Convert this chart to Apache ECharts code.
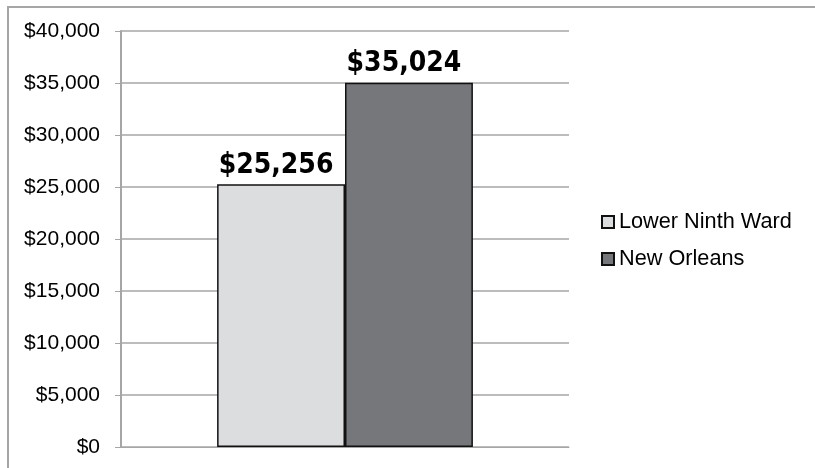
<!DOCTYPE html>
<html><head><meta charset="utf-8">
<script src="https://cdn.jsdelivr.net/npm/echarts@6/dist/echarts.min.js"></script>
<style>html,body{margin:0;padding:0;background:#fff}#c{width:815px;height:468px}</style>
</head><body><div id="c"></div>
<script>
const categories = ['Median Household Income'];
const seriesNames = ['Lower Ninth Ward', 'New Orleans'];
const lowerNinthWard = [25256];
const newOrleans = [35024];
const yTicks = {min: 0, max: 40000, interval: 5000};

const fmt = v => '$' + v.toLocaleString('en-US');
const chart = echarts.init(document.getElementById('c'));
const labelStyle = {
  show: true, position: 'top', distance: 5, offset: [-5, 0],
  formatter: p => fmt(p.value),
  fontFamily: '"DejaVu Sans Condensed", sans-serif',
  fontWeight: 'bold', fontSize: 28, color: '#000'
};
chart.setOption({
  animation: false,
  graphic: [{type: 'rect', shape: {x: 8, y: 7, width: 900, height: 600}, style: {fill: 'none', stroke: '#a6a6a6', lineWidth: 2}, z: -1}],
  grid: {left: 121, right: 246, top: 31, bottom: 21},
  legend: {
    orient: 'vertical', left: 596, top: 206, itemGap: 15,
    itemWidth: 12, itemHeight: 12, icon: 'rect',
    textStyle: {fontFamily: 'Liberation Sans, Arial, sans-serif', fontSize: 21.7, color: '#000'},
    data: seriesNames
  },
  xAxis: {
    type: 'category', data: categories,
    axisLine: {show: true, lineStyle: {color: '#a6a6a6', width: 1}},
    axisTick: {show: false}, axisLabel: {show: false}
  },
  yAxis: {
    type: 'value', min: yTicks.min, max: yTicks.max, interval: yTicks.interval,
    axisLine: {show: true, lineStyle: {color: '#a6a6a6', width: 2}},
    axisTick: {show: true, length: 6, lineStyle: {color: '#a6a6a6'}},
    splitLine: {lineStyle: {color: '#a6a6a6', width: 1.5}},
    axisLabel: {formatter: v => fmt(v), fontFamily: 'Liberation Sans, Arial, sans-serif', fontSize: 21, color: '#000', margin: 21}
  },
  series: [
    {name: seriesNames[0], type: 'bar', data: lowerNinthWard, barGap: '0%', barCategoryGap: '42.9%',
     itemStyle: {color: '#dcdddf', borderColor: '#111', borderWidth: 1.5}, label: labelStyle},
    {name: seriesNames[1], type: 'bar', data: newOrleans,
     itemStyle: {color: '#76777b', borderColor: '#111', borderWidth: 1.5}, label: labelStyle}
  ]
});
</script></body></html>
